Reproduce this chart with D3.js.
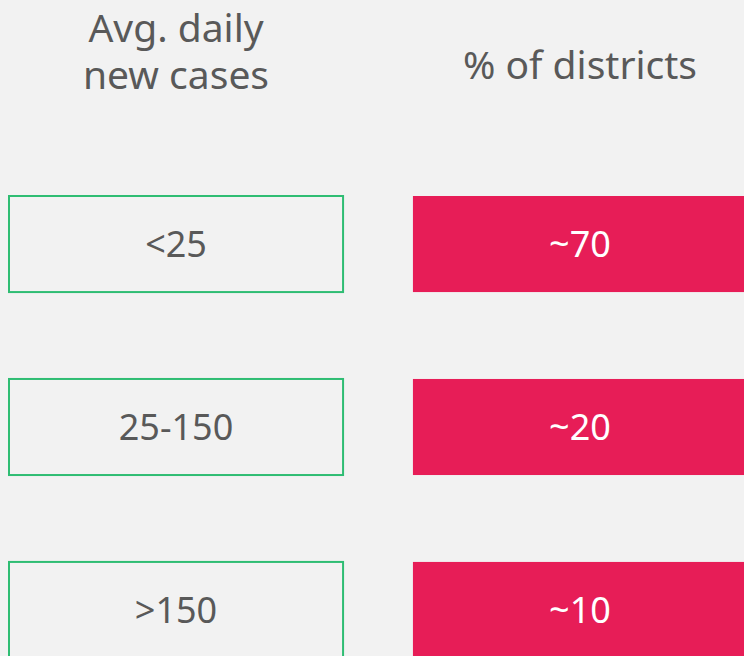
<!DOCTYPE html>
<html>
<head>
<meta charset="utf-8">
<script src="https://cdn.jsdelivr.net/npm/d3@7"></script>
<style>
  html, body { margin: 0; padding: 0; background: #f2f2f2; }
  svg { display: block; }
</style>
</head>
<body>
<div class="graph-container"></div>
<script>
// DATA
const columns = ["cases", "districts"];
const headerLines = [["Avg. daily", "new cases"], ["% of districts"]];
const caseBands = ["<25", "25-150", ">150"];
const districtShares = ["~70", "~20", "~10"];

// CONSTANTS
const w = 744;
const h = 656;
const font = "'Noto Sans', 'Open Sans', sans-serif";
const textGrey = "#595959";
const green = "#2fbd73";
const crimson = "#e71d57";

// SCALES
const xScale = d3.scaleBand()
    .domain(columns)
    .range([9, 747])
    .paddingInner(0.173);
const yScale = d3.scaleBand()
    .domain(caseBands)
    .range([196, 658])
    .paddingInner(0.475);

const svg = d3.select('div.graph-container')
    .append('svg')
    .attr('width', w)
    .attr('height', h);

// HEADERS
const headers = svg.selectAll('text.header')
    .data(columns)
    .enter()
    .append('text')
    .attr('class', 'header')
    .attr('text-anchor', 'middle')
    .attr('font-family', font)
    .attr('font-size', 39)
    .attr('fill', textGrey);
headers.selectAll('tspan')
    .data((d, i) => headerLines[i].map(line => ({ col: d, line, n: headerLines[i].length })))
    .enter()
    .append('tspan')
    .attr('x', d => xScale(d.col) + xScale.bandwidth() / 2)
    .attr('y', (d, i) => d.n > 1 ? 42 + i * 47 : 79)
    .text(d => d.line);

// LEFT BOXES (outlined)
svg.selectAll('rect.cases')
    .data(caseBands)
    .enter()
    .append('rect')
    .attr('class', 'cases')
    .attr('x', xScale('cases'))
    .attr('y', d => yScale(d))
    .attr('width', xScale.bandwidth())
    .attr('height', yScale.bandwidth())
    .attr('fill', 'none')
    .attr('stroke', green)
    .attr('stroke-width', 2);

svg.selectAll('text.cases')
    .data(caseBands)
    .enter()
    .append('text')
    .attr('class', 'cases')
    .attr('x', xScale('cases') + xScale.bandwidth() / 2)
    .attr('y', d => yScale(d) + yScale.bandwidth() / 2 + 13)
    .attr('text-anchor', 'middle')
    .attr('font-family', font)
    .attr('font-size', 36)
    .attr('fill', textGrey)
    .text(d => d);

// RIGHT BOXES (filled)
svg.selectAll('rect.districts')
    .data(districtShares)
    .enter()
    .append('rect')
    .attr('class', 'districts')
    .attr('x', xScale('districts'))
    .attr('y', (d, i) => yScale(caseBands[i]))
    .attr('width', xScale.bandwidth())
    .attr('height', yScale.bandwidth())
    .attr('fill', crimson);

svg.selectAll('text.districts')
    .data(districtShares)
    .enter()
    .append('text')
    .attr('class', 'districts')
    .attr('x', xScale('districts') + xScale.bandwidth() / 2)
    .attr('y', (d, i) => yScale(caseBands[i]) + yScale.bandwidth() / 2 + 13)
    .attr('text-anchor', 'middle')
    .attr('font-family', font)
    .attr('font-size', 36)
    .attr('fill', '#ffffff')
    .text(d => d);
</script>
</body>
</html>
